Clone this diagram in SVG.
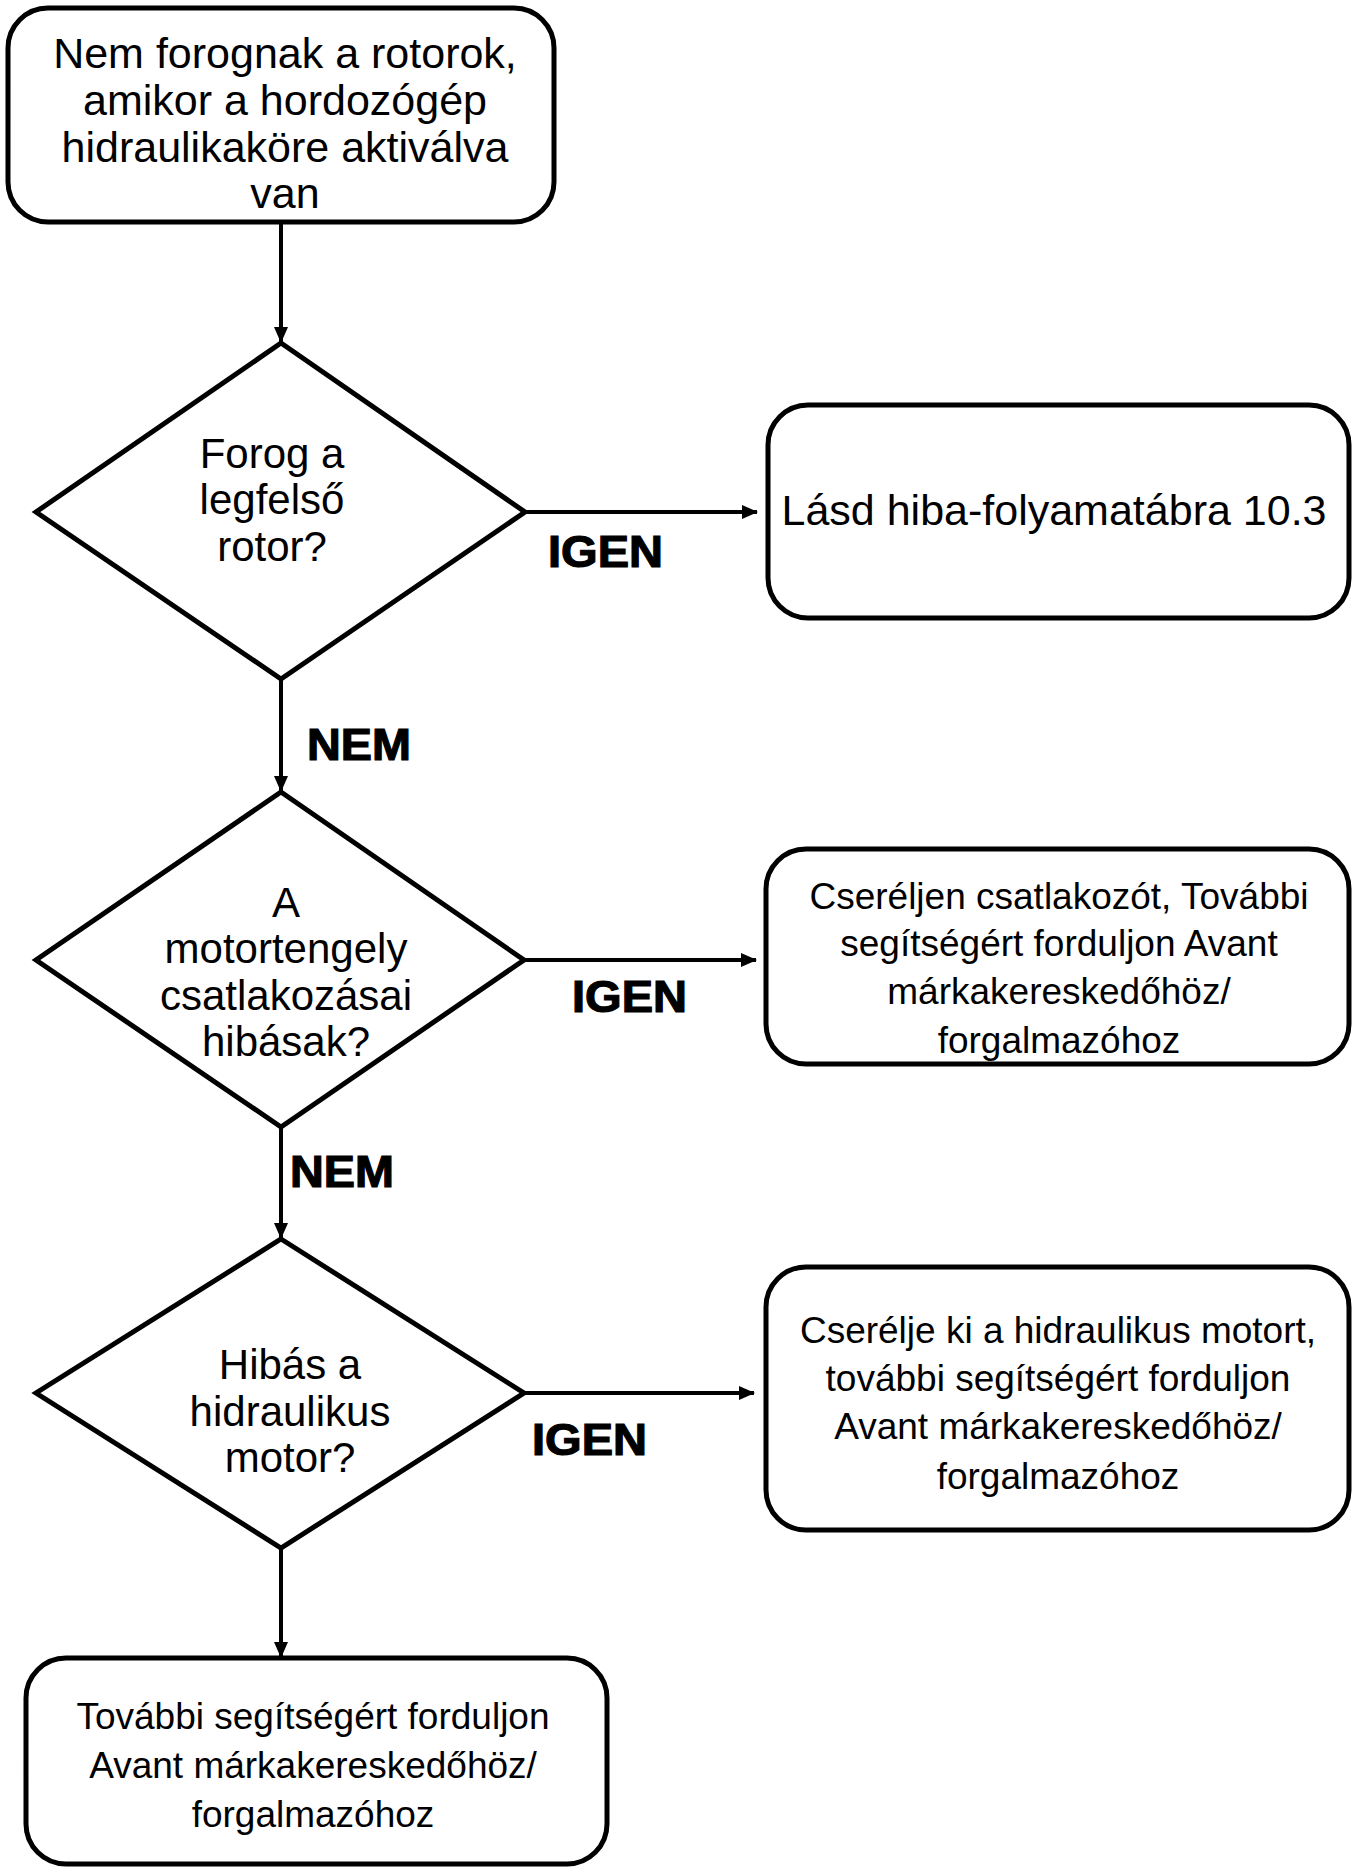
<svg xmlns="http://www.w3.org/2000/svg" width="1359" height="1868" viewBox="0 0 1359 1868">
<style>
.box{fill:#fff;stroke:#000;stroke-width:5}
.t{font-family:"Liberation Sans",Arial,sans-serif;fill:#000;text-anchor:middle}
.big{font-size:42px}
.lg{font-size:43px}
.mid{font-size:37px}
.lbl{font-family:"Liberation Sans",Arial,sans-serif;font-weight:bold;font-size:44px;fill:#000;stroke:#000;stroke-width:1.2}
.con{stroke:#000;stroke-width:4;fill:none;marker-end:url(#ah)}
</style>
<defs>
<marker id="ah" markerUnits="userSpaceOnUse" markerWidth="16" markerHeight="14" refX="15" refY="7" orient="auto">
<path d="M0,0 L16,7 L0,14 Z" fill="#000"/>
</marker>
</defs>
<rect width="1359" height="1868" fill="#fff"/>
<g id="connectors">
<line class="con" x1="281" y1="222" x2="281" y2="342"/>
<line class="con" x1="525" y1="512" x2="757" y2="512"/>
<line class="con" x1="281" y1="679" x2="281" y2="791"/>
<line class="con" x1="524" y1="960" x2="756" y2="960"/>
<line class="con" x1="281" y1="1127" x2="281" y2="1238"/>
<line class="con" x1="524" y1="1393" x2="754" y2="1393"/>
<line class="con" x1="281" y1="1548" x2="281" y2="1657"/>
<text class="lbl" x="548" y="567" textLength="115" lengthAdjust="spacingAndGlyphs">IGEN</text>
<text class="lbl" x="307" y="760" textLength="104" lengthAdjust="spacingAndGlyphs">NEM</text>
<text class="lbl" x="572" y="1012" textLength="115" lengthAdjust="spacingAndGlyphs">IGEN</text>
<text class="lbl" x="290" y="1187" textLength="104" lengthAdjust="spacingAndGlyphs">NEM</text>
<text class="lbl" x="532" y="1455" textLength="115" lengthAdjust="spacingAndGlyphs">IGEN</text>
</g>
<g id="start">
<rect class="box" x="8" y="8" width="546" height="214" rx="40"/>
<text class="t lg" x="285" y="68">Nem forognak a rotorok,</text>
<text class="t lg" x="285" y="115">amikor a hordozógép</text>
<text class="t lg" x="285" y="162">hidraulikaköre aktiválva</text>
<text class="t lg" x="285" y="208">van</text>
</g>
<g id="d1">
<polygon class="box" points="281,343 525,512 281,679 36,512"/>
<text class="t big" x="272" y="468">Forog a</text>
<text class="t big" x="272" y="514">legfelső</text>
<text class="t big" x="272" y="561">rotor?</text>
</g>
<g id="r1">
<rect class="box" x="768" y="405" width="581" height="213" rx="40"/>
<text class="t lg" x="1054" y="525">Lásd hiba-folyamatábra 10.3</text>
</g>
<g id="d2">
<polygon class="box" points="281,792 524,960 281,1127 36,960"/>
<text class="t big" x="286" y="917">A</text>
<text class="t big" x="286" y="963">motortengely</text>
<text class="t big" x="286" y="1010">csatlakozásai</text>
<text class="t big" x="286" y="1056">hibásak?</text>
</g>
<g id="r2">
<rect class="box" x="766" y="849" width="583" height="215" rx="40"/>
<text class="t mid" x="1059" y="909">Cseréljen csatlakozót, További</text>
<text class="t mid" x="1059" y="956">segítségért forduljon Avant</text>
<text class="t mid" x="1059" y="1004">márkakereskedőhöz/</text>
<text class="t mid" x="1059" y="1053">forgalmazóhoz</text>
</g>
<g id="d3">
<polygon class="box" points="281,1239 524,1393 281,1548 36,1393"/>
<text class="t big" x="290" y="1379">Hibás a</text>
<text class="t big" x="290" y="1426">hidraulikus</text>
<text class="t big" x="290" y="1472">motor?</text>
</g>
<g id="r3">
<rect class="box" x="766" y="1267" width="583" height="263" rx="40"/>
<text class="t mid" x="1058" y="1343">Cserélje ki a hidraulikus motort,</text>
<text class="t mid" x="1058" y="1391">további segítségért forduljon</text>
<text class="t mid" x="1058" y="1439">Avant márkakereskedőhöz/</text>
<text class="t mid" x="1058" y="1489">forgalmazóhoz</text>
</g>
<g id="end">
<rect class="box" x="26" y="1658" width="581" height="206" rx="40"/>
<text class="t mid" x="313" y="1729">További segítségért forduljon</text>
<text class="t mid" x="313" y="1778">Avant márkakereskedőhöz/</text>
<text class="t mid" x="313" y="1827">forgalmazóhoz</text>
</g>
</svg>
